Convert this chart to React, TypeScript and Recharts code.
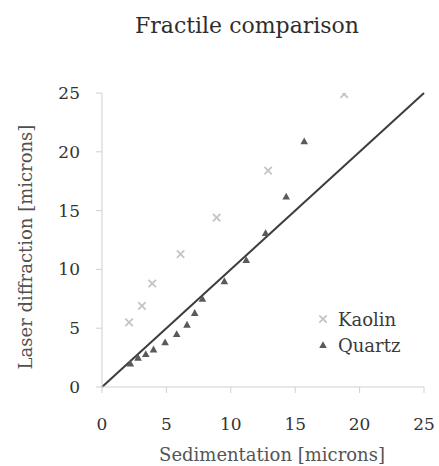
import { ScatterChart, Scatter, XAxis, YAxis, ReferenceLine } from 'recharts';

const kaolinX = [2.1, 3.1, 3.9, 6.1, 8.9, 12.9, 18.8];
const kaolinY = [5.5, 6.9, 8.8, 11.3, 14.4, 18.4, 24.9];

const quartzX = [2.2, 2.8, 3.4, 4.0, 4.9, 5.8, 6.6, 7.2, 7.8, 9.5, 11.2, 12.7, 14.3, 15.7];
const quartzY = [2.0, 2.5, 2.8, 3.2, 3.8, 4.5, 5.3, 6.3, 7.5, 9.0, 10.8, 13.1, 16.2, 20.9];

const axisTicks = [0, 5, 10, 15, 20, 25];

const kaolin = kaolinX.map((x, i) => ({ x, y: kaolinY[i] }));
const quartz = quartzX.map((x, i) => ({ x, y: quartzY[i] }));

const FONT = '"DejaVu Serif", serif';
const KAOLIN_COLOR = '#c4c4c4';
const QUARTZ_COLOR = '#5a5a5a';
const AXIS_COLOR = '#d0d0d0';

function KaolinMark({ cx, cy }: { cx?: number; cy?: number }) {
  if (cx == null || cy == null) return null;
  const r = 3.7;
  return (
    <g stroke={KAOLIN_COLOR} strokeWidth={1.8}>
      <line x1={cx - r} y1={cy - r} x2={cx + r} y2={cy + r} />
      <line x1={cx - r} y1={cy + r} x2={cx + r} y2={cy - r} />
    </g>
  );
}

function QuartzMark({ cx, cy }: { cx?: number; cy?: number }) {
  if (cx == null || cy == null) return null;
  const r = 3.8;
  return (
    <polygon
      points={`${cx},${cy - r} ${cx + r},${cy + r * 0.8} ${cx - r},${cy + r * 0.8}`}
      fill={QUARTZ_COLOR}
    />
  );
}

function LegendBox() {
  const row = { display: 'flex', alignItems: 'center', height: 26 } as const;
  return (
    <div
      style={{
        position: 'absolute',
        left: 318,
        top: 306,
        fontFamily: FONT,
        fontSize: 18,
        color: '#3a3a3a',
      }}
    >
      <div style={row}>
        <svg width={20} height={12}>
          <KaolinMark cx={5} cy={6} />
        </svg>
        <span>Kaolin</span>
      </div>
      <div style={row}>
        <svg width={20} height={12}>
          <QuartzMark cx={5} cy={6} />
        </svg>
        <span>Quartz</span>
      </div>
    </div>
  );
}

export default function App() {
  return (
    <div style={{ position: 'absolute', left: 0, top: 0, width: 439, height: 466, background: '#fff' }}>
      <div
        style={{
          position: 'absolute',
          left: 247,
          top: 25,
          transform: 'translate(-50%, -50%)',
          whiteSpace: 'nowrap',
          fontFamily: FONT,
          fontSize: 22,
          color: '#2e2e2e',
        }}
      >
        Fractile comparison
      </div>
      <div
        style={{
          position: 'absolute',
          left: 25,
          top: 247,
          transform: 'translate(-50%, -50%) rotate(-90deg)',
          whiteSpace: 'nowrap',
          fontFamily: FONT,
          fontSize: 18,
          color: '#505050',
        }}
      >
        Laser diffraction [microns]
      </div>
      <div
        style={{
          position: 'absolute',
          left: 272,
          top: 454,
          transform: 'translate(-50%, -50%)',
          whiteSpace: 'nowrap',
          fontFamily: FONT,
          fontSize: 18,
          color: '#555',
        }}
      >
        Sedimentation [microns]
      </div>
      <ScatterChart width={439} height={466} margin={{ top: 93, right: 15, left: 42, bottom: 0 }}>
        <XAxis
          type="number"
          dataKey="x"
          domain={[0, 25]}
          ticks={axisTicks}
          height={79}
          tickSize={6}
          tickMargin={25}
          stroke={AXIS_COLOR}
          tick={{ fontFamily: FONT, fontSize: 17, fill: '#333' }}
          allowDataOverflow
        />
        <YAxis
          type="number"
          dataKey="y"
          domain={[0, 25]}
          ticks={axisTicks}
          width={60}
          tickSize={6}
          tickMargin={16}
          stroke={AXIS_COLOR}
          tick={{ fontFamily: FONT, fontSize: 17, fill: '#333' }}
          allowDataOverflow
        />
        <ReferenceLine
          segment={[
            { x: 0, y: 0 },
            { x: 25, y: 25 },
          ]}
          stroke="#3c3c3c"
          strokeWidth={2}
          ifOverflow="visible"
        />
        <Scatter name="Kaolin" data={kaolin} shape={(p: any) => <KaolinMark cx={p.cx} cy={p.cy} />} isAnimationActive={false} />
        <Scatter name="Quartz" data={quartz} shape={(p: any) => <QuartzMark cx={p.cx} cy={p.cy} />} isAnimationActive={false} />
      </ScatterChart>
      <LegendBox />
    </div>
  );
}
